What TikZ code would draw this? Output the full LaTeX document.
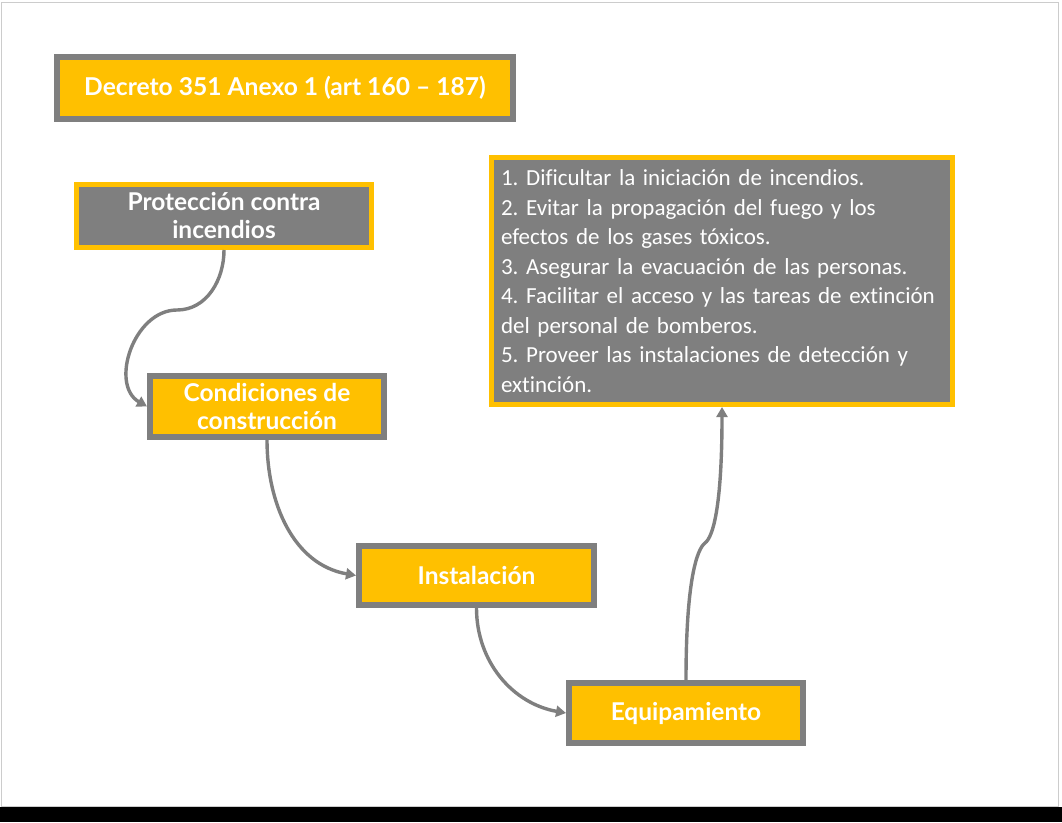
\documentclass[tikz,border=0pt]{standalone}
\usepackage{fontspec}
\setmainfont{Lato}
\newfontfamily\listfont[Ligatures=NoCommon]{Carlito}
\usetikzlibrary{arrows.meta}
\definecolor{amber}{HTML}{FFC000}
\definecolor{slate}{HTML}{7F7F7F}
\begin{document}
\frenchspacing
\begin{tikzpicture}[
      x=1pt, y=1pt,
      ybox/.style={draw=slate, fill=amber, line width=6pt, text=white, inner sep=0, align=center,
        font=\bfseries\fontsize{24.5}{28}\selectfont},
      gbox/.style={draw=amber, fill=slate, line width=5pt, text=white, inner sep=0},
      link/.style={draw=slate, line width=3.4pt, -{Triangle[length=10pt, width=11pt]}}
    ]
    \useasboundingbox (0,0) rectangle (1062,-822);
    \fill[black] (0,-807) rectangle (1062,-822);
    \draw[black!20, line width=1pt] (1,-2) rectangle (1058.5,-806);
    \node[ybox, minimum width=456, minimum height=62, font=\bfseries\fontsize{24.6}{28}\selectfont]
      (decreto) at (285,-88) {Decreto 351 Anexo 1 (art 160 -- 187)};
    \node[gbox, minimum width=295, minimum height=63, align=center,
      font=\bfseries\fontsize{24.5}{28}\selectfont]
      (proteccion) at (224,-216) {Protección contra\\incendios};
    \node[ybox, minimum width=234, minimum height=61] (condiciones) at (267,-406.5) {Condiciones de\\construcción};
    \node[ybox, minimum width=235, minimum height=59] (instalacion) at (476.5,-575.5) {Instalación};
    \node[ybox, minimum width=234, minimum height=60] (equipamiento) at (686,-713) {Equipamiento};
    \node[gbox, minimum height=247, text width=442, inner xsep=9.5, align=left,
      font=\listfont\fontsize{23}{29.5}\selectfont]
      (objetivos) at (722,-281) {1. Dificultar la iniciación de incendios.\\
      2. Evitar la propagación del fuego y los\\efectos de los gases tóxicos.\\
      3. Asegurar la evacuación de las personas.\\
      4. Facilitar el acceso y las tareas de extinción\\del personal de bomberos.\\
      5. Proveer las instalaciones de detección y\\extinción.};
    \draw[link] (proteccion.south) to[out=-90, in=0] ++(-47,-60) to[out=180, in=150, looseness=1.1] (condiciones.west);
    \draw[link] (condiciones.south) to[out=-90, in=170] (instalacion.west);
    \draw[link] (instalacion.south) to[out=-90, in=170] (equipamiento.west);
    \draw[link] (equipamiento.north) .. controls +(0,100) and +(-8,-6) .. ++(19,137)
      .. controls +(8,6) and +(0,-100) .. (objetivos.south);
\end{tikzpicture}
\end{document}
